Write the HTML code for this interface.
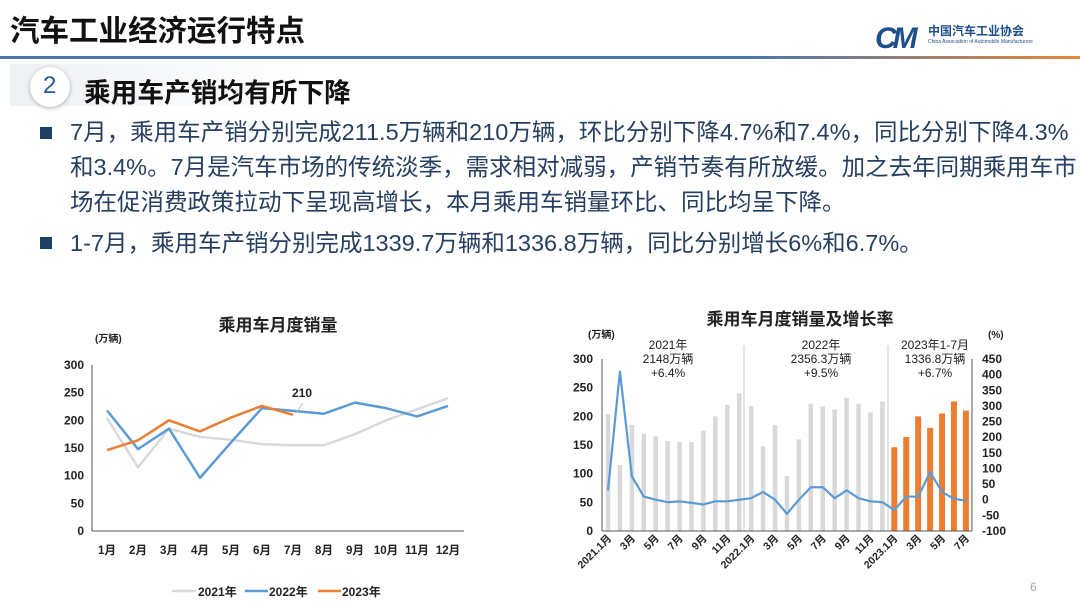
<!DOCTYPE html>
<html><head><meta charset="utf-8">
<style>
body{margin:0;width:1080px;height:607px;background:#fff;overflow:hidden;font-family:"Liberation Sans","Noto Sans CJK SC",sans-serif;position:relative}
.t{position:absolute;white-space:nowrap}
</style></head><body>
<div class="t" style="left:10px;top:8px;font-size:29.5px;font-weight:bold;color:#111">汽车工业经济运行特点</div>
<div class="t" style="left:875px;top:22px;font-size:30px;font-weight:bold;font-style:italic;color:#1e4f8a;letter-spacing:-4px">CM</div>
<div class="t" style="left:928px;top:22px;font-size:12px;font-weight:bold;color:#1e4f8a">中国汽车工业协会</div>
<div class="t" style="left:928px;top:39px;font-size:5px;color:#1e4f8a">China Association of Automobile Manufacturers</div>
<div style="position:absolute;left:0;top:56px;width:1080px;height:3px;background:linear-gradient(90deg,#4a77aa 0%,#4a77aa 70%,#e8873a 100%)"></div>
<div style="position:absolute;left:10px;top:64px;width:300px;height:42px;background:linear-gradient(90deg,#eef1f5,#fff)"></div>
<div style="position:absolute;left:30px;top:67px;width:40px;height:40px;border-radius:50%;background:#fff;box-shadow:0 1px 4px #aaa"></div>
<div class="t" style="left:43px;top:72px;font-size:24px;color:#2a5d95">2</div>
<div class="t" style="left:84px;top:71px;font-size:26.7px;font-weight:bold;color:#111">乘用车产销均有所下降</div>
<div style="position:absolute;left:40px;top:127px;width:12px;height:12px;background:#1f3f63"></div>
<div style="position:absolute;left:40px;top:237px;width:12px;height:12px;background:#1f3f63"></div>
<div class="t" style="left:70px;top:115px;font-size:23.5px;line-height:35px;color:#263f60">7月，乘用车产销分别完成211.5万辆和210万辆，环比分别下降4.7%和7.4%，同比分别下降4.3%<br>和3.4%。7月是汽车市场的传统淡季，需求相对减弱，产销节奏有所放缓。加之去年同期乘用车市<br>场在促消费政策拉动下呈现高增长，本月乘用车销量环比、同比均呈下降。</div>
<div class="t" style="left:70px;top:226px;font-size:23.5px;line-height:35px;color:#263f60">1-7月，乘用车产销分别完成1339.7万辆和1336.8万辆，同比分别增长6%和6.7%。</div>
<svg id="s" width="1080" height="607" style="position:absolute;left:0;top:0" font-family="Liberation Sans,Noto Sans CJK SC,sans-serif" font-weight="bold" font-size="11" fill="#222"></svg>
<div class="t" style="left:1030px;top:580px;font-size:12px;color:#aaa">6</div>
<script>
var s=document.getElementById('s'),h='';
var y0=531,k=166/300;
function ly(v){return y0-v*k}
function lx(i){return 107+i*31}
h+='<text x="278" y="331" font-size="17" text-anchor="middle">乘用车月度销量</text>';
h+='<text x="95" y="342" font-size="10">(万辆)</text>';
for(var v=0;v<=300;v+=50)h+='<text x="84" y="'+(ly(v)+4)+'" text-anchor="end" font-size="12">'+v+'</text>';
h+='<line x1="92" y1="365" x2="92" y2="531" stroke="#555" stroke-width="1"/><line x1="92" y1="531" x2="464" y2="531" stroke="#555"/>';
var m=['1月','2月','3月','4月','5月','6月','7月','8月','9月','10月','11月','12月'];
for(var i=0;i<12;i++)h+='<text x="'+lx(i)+'" y="554" text-anchor="middle" font-size="11.5">'+m[i]+'</text>';
var a=[204,115,185,170,165,157,155,155,175,200,220,240],b=[218,148,185,96,160,222,217,212,232,222,207,226],c=[146,164,200,180,205,226,210];
function pl(d,col,w){var p=d.map(function(v,i){return lx(i)+','+ly(v)}).join(' ');return '<polyline points="'+p+'" fill="none" stroke="'+col+'" stroke-width="'+w+'" stroke-linejoin="round"/>'}
h+=pl(a,'#d9d9d9',2.5)+pl(b,'#5b9bd5',2.5)+pl(c,'#ed7d31',2.5);
h+='<line x1="296" y1="413" x2="303" y2="403" stroke="#bbb"/><text x="292" y="397" font-size="12">210</text>';
h+='<line x1="172" y1="591" x2="196" y2="591" stroke="#d9d9d9" stroke-width="2.5"/><text x="198" y="596" font-size="12">2021年</text>';
h+='<line x1="245" y1="591" x2="268" y2="591" stroke="#5b9bd5" stroke-width="2.5"/><text x="269" y="596" font-size="12">2022年</text>';
h+='<line x1="318" y1="591" x2="341" y2="591" stroke="#ed7d31" stroke-width="2.5"/><text x="342" y="596" font-size="12">2023年</text>';
var RY0=531,RY1=359;
function ry(v){return RY0-v*(RY0-RY1)/300}
function rg(v){return RY0-(v+100)*(RY0-RY1)/550}
function rx(i){return 608+i*11.93}
h+='<text x="800" y="325" font-size="17" text-anchor="middle">乘用车月度销量及增长率</text>';
h+='<text x="588" y="338" font-size="10">(万辆)</text><text x="988" y="338" font-size="10">(%)</text>';
for(var v=0;v<=300;v+=50)h+='<text x="593" y="'+(ry(v)+4)+'" text-anchor="end" font-size="12">'+v+'</text>';
for(var v=-100;v<=450;v+=50)h+='<text x="982" y="'+(rg(v)+4)+'" font-size="12">'+v+'</text>';
var bars=a.concat(b).concat(c),g=[30,410,75,10,0,-8,-5,-10,-15,-5,-5,0,5,25,0,-45,0,40,40,5,30,5,-5,-8,-33,10,10,88,25,3,-3];
for(var i=0;i<31;i++){var col=i>=24?'#ed7d31':'#d9d9d9',w=i>=24?6:4.5;h+='<rect x="'+(rx(i)-w/2)+'" y="'+ry(bars[i])+'" width="'+w+'" height="'+(RY0-ry(bars[i]))+'" fill="'+col+'"/>'}
h+='<line x1="602" y1="359" x2="602" y2="531" stroke="#555"/><line x1="972" y1="359" x2="972" y2="531" stroke="#555"/><line x1="602" y1="531" x2="972" y2="531" stroke="#555"/>';
h+='<line x1="744" y1="345" x2="744" y2="531" stroke="#9bb7d9" stroke-width="0.7"/><line x1="888" y1="345" x2="888" y2="531" stroke="#9bb7d9" stroke-width="0.7"/>';
h+='<polyline points="'+g.map(function(v,i){return rx(i)+','+rg(v)}).join(' ')+'" fill="none" stroke="#5b9bd5" stroke-width="2.2" stroke-linejoin="round"/>';
function tb(x,arr){arr.forEach(function(t,j){h+='<text x="'+x+'" y="'+(349+j*14)+'" text-anchor="middle" font-size="12" font-weight="normal">'+t+'</text>'})}
tb(668,['2021年','2148万辆','+6.4%']);tb(821,['2022年','2356.3万辆','+9.5%']);tb(935,['2023年1-7月','1336.8万辆','+6.7%']);
var xl=['2021.1月','3月','5月','7月','9月','11月','2022.1月','3月','5月','7月','9月','11月','2023.1月','3月','5月','7月'];
for(var i=0;i<16;i++){var x=rx(i*2)+4,y=539;h+='<text transform="translate('+x+','+y+') rotate(-45)" text-anchor="end" font-size="10.5">'+xl[i]+'</text>'}
s.innerHTML=h;
</script>
</body></html>
